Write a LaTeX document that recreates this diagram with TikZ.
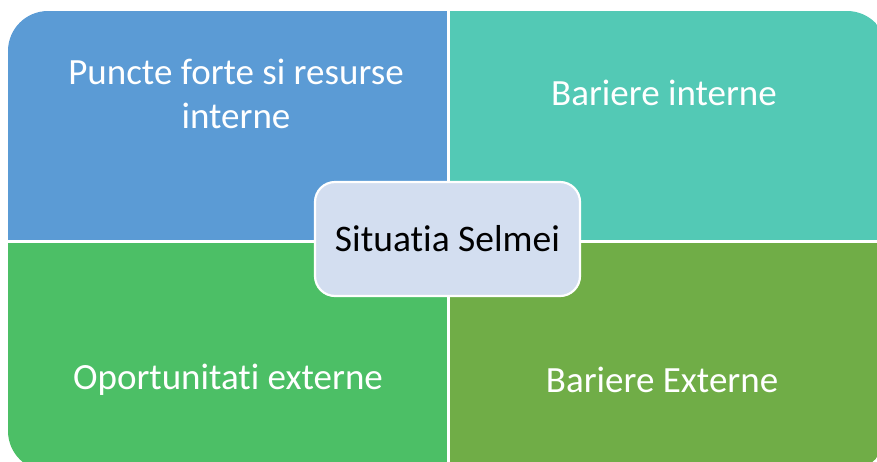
\documentclass[tikz,border=0pt]{standalone}
\usepackage{fontspec}
\setmainfont{Carlito}[Ligatures=NoCommon]
\definecolor{qblue}{HTML}{5B9BD5}
\definecolor{qteal}{HTML}{53C9B5}
\definecolor{qgreen}{HTML}{4CBF66}
\definecolor{qolive}{HTML}{70AD47}
\definecolor{cfill}{HTML}{D3DEF0}
\begin{document}
\begin{tikzpicture}[x=1pt,y=-1pt,
  quad/.style={draw=none, inner sep=0pt, outer sep=0pt},
  qtext/.style={text=white, font=\fontsize{37}{44}\selectfont, align=center, inner sep=0pt},
  centerbox/.style={draw=white, line width=2.2pt, fill=cfill, rounded corners=20pt,
     minimum width=265pt, minimum height=114pt, inner sep=0pt,
     font=\fontsize{37.5}{44}\selectfont, text=black}]
\useasboundingbox (0,0) rectangle (877,461);
\begin{scope}
  \clip (0,0) rectangle (877,461);
  \clip[rounded corners=40pt] (8,11) rectangle (887,471);
  \node[quad, fill=qblue, minimum width=440pt, minimum height=230pt, anchor=north west] (q1) at (8,11) {};
  \node[quad, fill=qteal, minimum width=440pt, minimum height=230pt, anchor=north west] (q2) at (447,11) {};
  \node[quad, fill=qgreen, minimum width=440pt, minimum height=232pt, anchor=north west] (q3) at (8,240) {};
  \node[quad, fill=qolive, minimum width=440pt, minimum height=232pt, anchor=north west] (q4) at (447,240) {};
\end{scope}
\draw[white, line width=3pt] (q1.north east) -- (q3.south east);
\draw[white, line width=3pt] (q1.south west) -- (q4.south east |- q1.south west);
\node[qtext] (t1) at (236,94) {Puncte forte si resurse\\interne};
\node[qtext] (t2) at (664,93) {Bariere interne};
\node[qtext] (t3) at (228,380) {Oportunitati externe};
\node[qtext] (t4) at (662,380) {Bariere Externe};
\node[centerbox] (c) at (447.5,239) {Situatia Selmei};
\end{tikzpicture}
\end{document}
